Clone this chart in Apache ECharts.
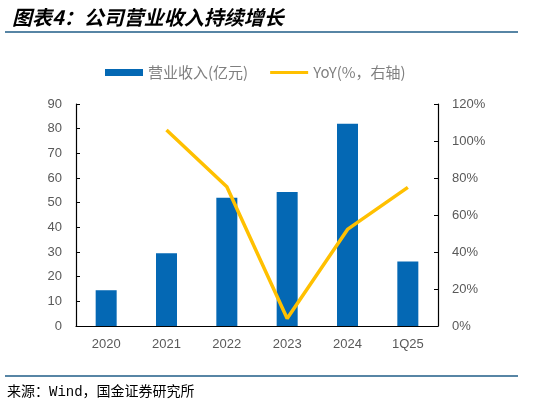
<!DOCTYPE html>
<html><head><meta charset="utf-8">
<script src="https://cdn.jsdelivr.net/npm/echarts@6/dist/echarts.min.js"></script>
<style>html,body{margin:0;padding:0;background:#fff}#c{width:541px;height:406px}</style>
</head><body><div id="c"></div>
<script>
var categories = ['2020','2021','2022','2023','2024','1Q25'];
var revenue = [14.5, 29.5, 52.0, 54.3, 82.0, 26.1];
var yoy = [null, 106, 75.3, 4, 52.2, 74.9];
var leftTicks = [0,10,20,30,40,50,60,70,80,90];
var rightTicks = [0,20,40,60,80,100,120];

var chart = echarts.init(document.getElementById('c'));
var lab = {color:'#595959', fontSize:13, fontFamily:'Arial, Liberation Sans, sans-serif'};
chart.setOption({
  animation:false,
  title:{text:'图表4：公司营业收入持续增长', left:7, top:2,
    textStyle:{fontSize:20, fontWeight:'bold', fontStyle:'italic', color:'#000', fontFamily:'Noto Sans CJK SC'}},
  graphic:[
    {type:'line', shape:{x1:5,y1:32,x2:518,y2:32}, style:{stroke:'#1F5C87', lineWidth:1.5}},
    {type:'line', shape:{x1:5,y1:376,x2:518,y2:376}, style:{stroke:'#1F5C87', lineWidth:1.5}},
    {type:'text', left:7, top:385, style:{text:'来源：Wind，国金证券研究所', fill:'#000', font:'14px "Liberation Mono", "Noto Sans CJK SC"'}}
  ],
  legend:{top:60, left:100, itemWidth:38, itemHeight:7, itemGap:22,
    textStyle:{color:'#7F7F7F', fontSize:15, fontFamily:'Noto Sans CJK SC'},
    data:[{name:'营业收入(亿元)', icon:'rect'}, {name:'YoY(%，右轴)', icon:'path://M0,0H38V3H0Z'}]},
  grid:{left:76, right:103, top:104, bottom:80},
  xAxis:{type:'category', data:categories,
    axisLine:{lineStyle:{color:'#000', width:1.2}},
    axisTick:{inside:true, length:4, lineStyle:{color:'#000'}},
    axisLabel:Object.assign({margin:12}, lab)},
  yAxis:[
    {type:'value', min:0, max:90, interval:10, splitLine:{show:false},
     axisLine:{show:true, lineStyle:{color:'#000', width:1.2}},
     axisTick:{show:true, inside:true, length:4, lineStyle:{color:'#000'}},
     axisLabel:Object.assign({margin:14}, lab)},
    {type:'value', min:0, max:120, interval:20, splitLine:{show:false}, position:'right',
     axisLine:{show:true, lineStyle:{color:'#000', width:1.2}},
     axisTick:{show:true, inside:true, length:4, lineStyle:{color:'#000'}},
     axisLabel:Object.assign({margin:14, formatter:'{value}%'}, lab)}
  ],
  series:[
    {name:'营业收入(亿元)', type:'bar', data:revenue, barWidth:21, itemStyle:{color:'#0468B4'}},
    {name:'YoY(%，右轴)', type:'line', yAxisIndex:1, data:yoy, symbol:'none', connectNulls:false,
     lineStyle:{color:'#FFC000', width:3.5}, itemStyle:{color:'#FFC000'}}
  ]
});
</script></body></html>
